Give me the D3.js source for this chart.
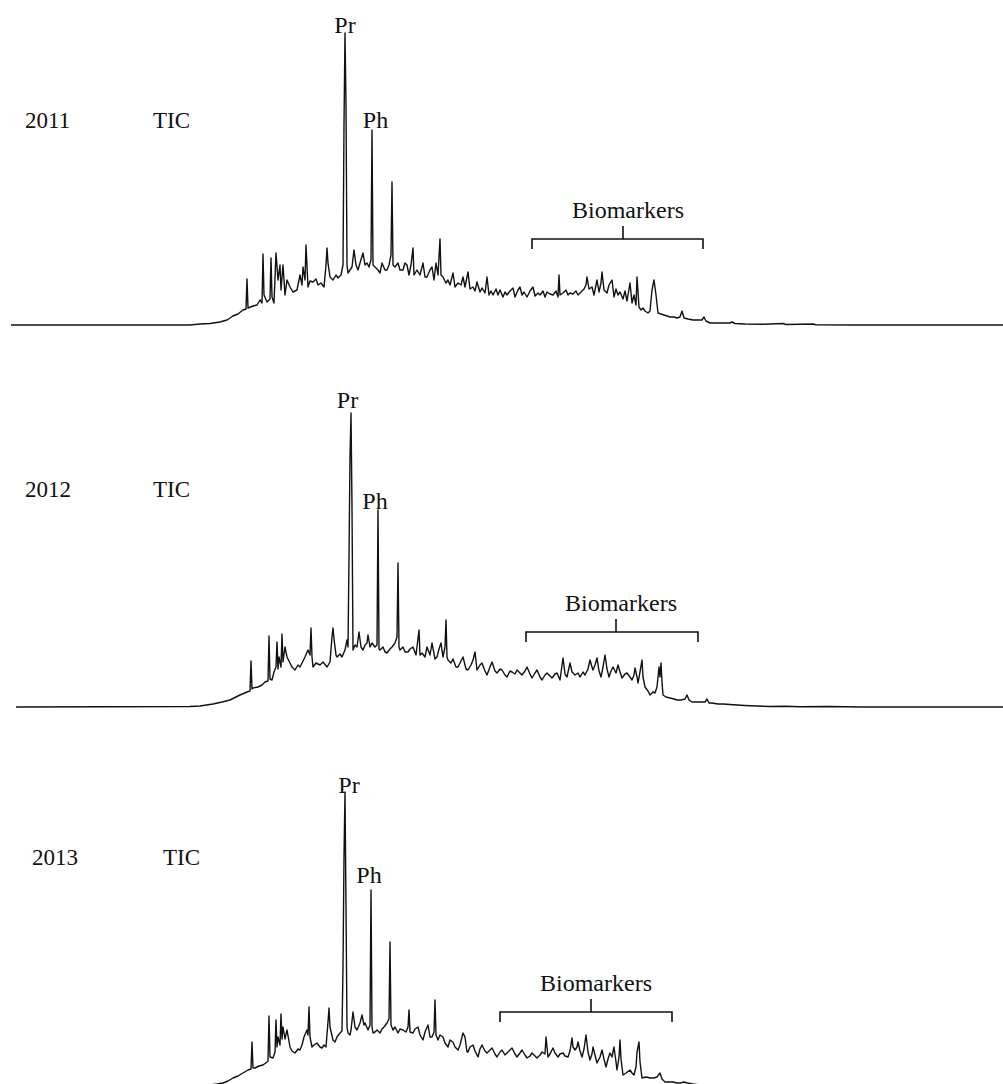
<!DOCTYPE html>
<html>
<head>
<meta charset="utf-8">
<script src="https://cdn.jsdelivr.net/npm/d3@7"></script>
<style>
  html, body { margin: 0; padding: 0; background: #fff; }
  svg { display: block; }
  text { font-family: "Liberation Serif", "Times New Roman", serif; fill: #111; }
</style>
</head>
<body>
<div id="chart"></div>
<script>
// Sample years and the scan-number axis shared by all three chromatograms
const years = ["2011", "2012", "2013"];
const scanDomain = [0, 993];
const abundanceDomain = [0, 300];

// TIC traces: [scan, abundance]
const trace2011 = [
  [1,0],[180,0],[190,1],[200,1.5],[210,3],[217,5],[223,9],[228,11],[233,15],[236,16],[237,46],[238,17],
  [243,19],[247,20],[250,25],[252,22],[253,71],[254,30],[257,23],[260,26],[261,67],[262,28],[264,22],
  [266,72],[268,45],[270,60],[271,35],[273,60],[275,30],[277,45],[280,38],[283,33],[287,35],[290,50],
  [292,40],[293,58],[295,45],[296,80],[298,38],[300,44],[303,43],[306,46],[308,40],[311,42],[314,38],
  [316,60],[317,77],[318,62],[320,48],[323,45],[326,50],[328,47],[331,50],[332,55],[333,60],[334,200],
  [335,292],[336,220],[337,60],[338,52],[340,55],[342,58],[344,75],[346,60],[348,55],[350,62],[353,72],
  [355,60],[357,62],[359,58],[361,65],[362,195],[363,60],[365,58],[368,55],[370,52],[372,62],[375,55],
  [377,55],[379,60],[380,65],[381,70],[382,143],[383,60],[385,58],[388,62],[390,55],[393,55],[395,62],
  [397,60],[399,50],[401,60],[403,77],[404,50],[407,55],[410,50],[413,62],[415,48],[417,48],[420,55],
  [422,58],[424,45],[426,62],[428,50],[430,86],[431,50],[433,48],[436,42],[438,45],[440,40],[443,52],
  [445,38],[448,42],[451,40],[453,48],[455,38],[458,53],[460,36],[463,38],[465,34],[467,43],[470,33],
  [472,37],[475,32],[477,48],[479,30],[481,34],[483,30],[486,36],[488,30],[490,35],[493,28],[495,33],
  [497,30],[500,34],[503,37],[505,28],[508,35],[510,38],[512,30],[514,33],[517,28],[520,34],[523,38],
  [525,29],[528,32],[530,30],[533,34],[535,28],[537,33],[540,31],[543,30],[546,34],[548,28],[549,50],
  [550,30],[553,32],[556,35],[558,30],[560,32],[563,31],[566,34],[568,30],[571,33],[574,36],[576,40],
  [577,48],[579,36],[582,38],[584,30],[587,45],[589,33],[591,42],[592,53],[594,35],[597,32],[599,40],
  [602,45],[604,28],[606,36],[608,30],[610,33],[613,26],[615,34],[617,24],[620,42],[622,22],[624,30],
  [626,20],[627,48],[629,18],[631,15],[633,17],[635,14],[638,12],[640,14],[642,35],[644,45],[646,30],
  [648,12],[651,11],[654,10],[657,9],[660,8],[664,8],[667,7],[670,8],[672,14],[674,7],[678,6],[683,5],
  [688,5],[692,5],[694,8],[696,4],[700,2],[710,2],[720,2],[722,3],[725,1.5],[735,1],[753,0.8],[773,1.5],
  [776,0.5],[803,1],[806,0.3],[840,0],[993,0]
];

const trace2012 = [
  [6,0],[180,0.5],[190,1],[203,3],[212,5],[220,7],[230,12],[237,15],[240,16],[241,46],[242,18],[243,19],
  [248,20],[252,22],[255,25],[258,26],[259,71],[260,28],[262,27],[264,35],[266,40],[267,65],[268,38],
  [269,50],[271,40],[272,73],[273,45],[275,60],[277,50],[280,44],[282,40],[285,37],[288,42],[290,40],
  [293,46],[295,50],[298,57],[300,52],[301,79],[302,50],[303,40],[306,44],[310,42],[313,45],[317,40],
  [320,45],[322,70],[323,79],[324,68],[326,52],[327,50],[330,53],[332,50],[335,57],[337,67],[338,60],
  [339,150],[340,250],[341,294],[342,200],[343,57],[345,62],[347,60],[349,75],[351,60],[353,57],[355,62],
  [357,64],[358,72],[360,60],[362,64],[365,60],[367,62],[368,197],[369,58],[370,57],[373,60],[375,55],
  [377,54],[380,58],[382,60],[385,64],[387,70],[388,144],[389,60],[390,57],[393,60],[395,55],[398,55],
  [400,58],[403,60],[406,52],[409,77],[410,52],[412,54],[415,50],[417,60],[420,52],[422,64],[425,48],
  [427,50],[429,58],[431,64],[433,50],[435,60],[436,87],[437,50],[438,47],[441,44],[443,48],[446,40],
  [448,40],[451,46],[453,50],[456,38],[458,37],[461,42],[463,47],[465,55],[467,37],[470,42],[472,44],
  [475,36],[477,32],[480,40],[482,45],[485,36],[487,34],[490,38],[492,37],[495,32],[497,30],[500,36],
  [502,35],[505,33],[507,37],[510,34],[512,32],[515,36],[517,40],[520,33],[522,29],[525,34],[527,37],
  [530,30],[532,27],[535,32],[537,34],[540,31],[542,29],[545,33],[547,34],[550,27],[553,49],[555,33],
  [557,30],[560,44],[562,35],[565,32],[568,34],[570,30],[573,35],[575,32],[578,38],[580,47],[582,40],
  [583,37],[585,42],[587,49],[589,36],[591,30],[593,40],[595,52],[597,38],[599,30],[601,36],[603,40],
  [606,34],[608,42],[610,35],[612,29],[615,33],[617,34],[620,30],[622,27],[624,32],[625,39],[627,30],
  [628,24],[630,35],[632,47],[633,30],[635,20],[638,16],[640,12],[643,15],[645,14],[647,20],[649,40],
  [650,30],[651,44],[652,25],[653,12],[656,10],[660,9],[664,8],[667,7],[671,7],[675,8],[677,12],[679,7],
  [682,5],[686,5],[690,5],[695,5],[697,8],[699,4],[702,4],[708,3],[713,3],[720,2.5],[727,2],[735,1.5],
  [747,1],[760,0.5],[775,0.8],[790,0.3],[820,0.5],[850,0],[993,0]
];

const trace2013 = [
  [1,0],[180,0.5],[190,1],[200,2],[207,3],[213,4],[218,6],[223,9],[228,11],[233,14],[238,17],[241,18],
  [242,45],[243,19],[245,19],[249,21],[253,22],[257,25],[258,26],[259,71],[260,30],[263,29],[265,35],
  [266,67],[267,40],[268,50],[270,42],[271,73],[272,48],[273,60],[275,48],[277,57],[280,40],[282,36],
  [285,34],[288,38],[290,37],[292,42],[294,50],[297,57],[298,52],[299,80],[300,50],[302,40],[304,42],
  [307,44],[310,40],[312,39],[314,42],[316,40],[318,65],[319,79],[320,60],[323,47],[325,45],[327,50],
  [330,54],[332,56],[333,120],[334,230],[335,295],[336,180],[337,60],[338,54],[340,52],[341,57],[343,75],
  [345,60],[347,57],[350,64],[352,72],[354,62],[355,64],[358,57],[360,62],[361,197],[362,60],[363,54],
  [365,55],[367,57],[370,54],[372,58],[374,60],[377,64],[379,68],[380,145],[381,62],[383,57],[385,60],
  [388,54],[390,58],[393,57],[396,55],[398,60],[399,77],[400,55],[403,54],[405,58],[408,60],[410,52],
  [413,47],[415,55],[418,62],[420,50],[422,50],[424,55],[425,87],[426,52],[428,47],[430,52],[433,50],
  [435,44],[438,40],[440,47],[443,45],[445,40],[448,37],[450,42],[453,54],[455,50],[457,35],[458,35],
  [460,40],[463,42],[465,36],[468,30],[470,38],[472,42],[475,36],[477,34],[480,37],[482,39],[485,33],
  [487,30],[490,35],[492,37],[495,32],[497,34],[500,37],[502,39],[505,33],[507,30],[510,34],[512,37],
  [515,32],[517,29],[520,31],[522,34],[525,31],[527,29],[530,32],[532,35],[535,33],[536,50],[538,30],
  [540,33],[543,39],[545,34],[548,30],[550,33],[553,34],[555,31],[558,30],[560,36],[562,49],[563,40],
  [565,37],[567,40],[568,45],[570,36],[572,30],[574,38],[576,52],[578,35],[580,27],[582,33],[583,40],
  [585,32],[587,24],[590,30],[592,37],[594,28],[596,20],[598,28],[600,34],[602,30],[604,40],[606,25],
  [607,17],[609,30],[610,47],[611,28],[613,12],[616,14],[620,17],[622,14],[624,12],[626,20],[627,35],
  [629,45],[630,25],[632,9],[636,10],[640,9],[644,9],[647,10],[650,14],[652,8],[655,5],[659,5],[663,5],
  [667,4],[670,4],[674,5],[677,4],[683,3],[690,2],[704,1.5],[706,0.5],[730,0.5],[790,0],[993,0]
];

// Peak annotations: [label, scan of label centre, abundance at label baseline]
const peaks2011 = [["Pr", 335, 292], ["Ph", 365.5, 197]];
const peaks2012 = [["Pr", 337.5, 299], ["Ph", 365, 198]];
const peaks2013 = [["Pr", 339, 294], ["Ph", 359, 204]];

// Biomarker window: [start scan, end scan, middle tick scan, bracket abundance]
const biomarkers2011 = [522, 693, 613, 86];
const biomarkers2012 = [516, 688, 606, 75];
const biomarkers2013 = [490, 662, 581, 75];

const traces = [trace2011, trace2012, trace2013];
const peakLabels = [peaks2011, peaks2012, peaks2013];
const biomarkerSpans = [biomarkers2011, biomarkers2012, biomarkers2013];

// Layout
const width = 1003;
const height = 1084;
const baselines = [325, 707, 1087];
const yearPos = [[25, 128], [25, 497], [32, 865]];
const ticPos = [[153, 128], [153, 497], [163, 865]];
const fontSize = 24;

const svg = d3
  .select("#chart")
  .append("svg")
  .attr("width", width)
  .attr("height", height)
  .attr("viewBox", `0 0 ${width} ${height}`);

const xScale = d3.scaleLinear().domain(scanDomain).range([10, 1003]);

years.forEach((year, i) => {
  const base = baselines[i];
  const yScale = d3
    .scaleLinear()
    .domain(abundanceDomain)
    .range([base, base - 300]);

  const g = svg.append("g").attr("class", "panel");

  const line = d3
    .line()
    .x((d) => xScale(d[0]))
    .y((d) => yScale(d[1]));

  g.append("path")
    .datum(traces[i])
    .attr("d", line)
    .attr("fill", "none")
    .attr("stroke", "#111")
    .attr("stroke-width", 1.4)
    .attr("stroke-linejoin", "round");

  // Year and TIC labels
  g.append("text")
    .attr("x", yearPos[i][0])
    .attr("y", yearPos[i][1])
    .attr("font-size", fontSize - 1)
    .text(year);

  g.append("text")
    .attr("x", ticPos[i][0])
    .attr("y", ticPos[i][1])
    .attr("font-size", fontSize - 1)
    .text("TIC");

  // Pr / Ph labels
  g.selectAll("text.peak")
    .data(peakLabels[i])
    .join("text")
    .attr("class", "peak")
    .attr("x", (d) => xScale(d[1]))
    .attr("y", (d) => yScale(d[2]))
    .attr("text-anchor", "middle")
    .attr("font-size", fontSize)
    .text((d) => d[0]);

  // Biomarker bracket
  const [s0, s1, sm, level] = biomarkerSpans[i];
  const yb = yScale(level);
  const bracket = d3.path();
  bracket.moveTo(xScale(s0), yb + 10);
  bracket.lineTo(xScale(s0), yb);
  bracket.lineTo(xScale(s1), yb);
  bracket.lineTo(xScale(s1), yb + 10);
  bracket.moveTo(xScale(sm), yb);
  bracket.lineTo(xScale(sm), yb - 13);

  g.append("path")
    .attr("d", bracket.toString())
    .attr("fill", "none")
    .attr("stroke", "#111")
    .attr("stroke-width", 1.6);

  g.append("text")
    .attr("x", xScale(sm) + 5)
    .attr("y", yb - 21)
    .attr("text-anchor", "middle")
    .attr("font-size", fontSize)
    .text("Biomarkers");
});
</script>
</body>
</html>
